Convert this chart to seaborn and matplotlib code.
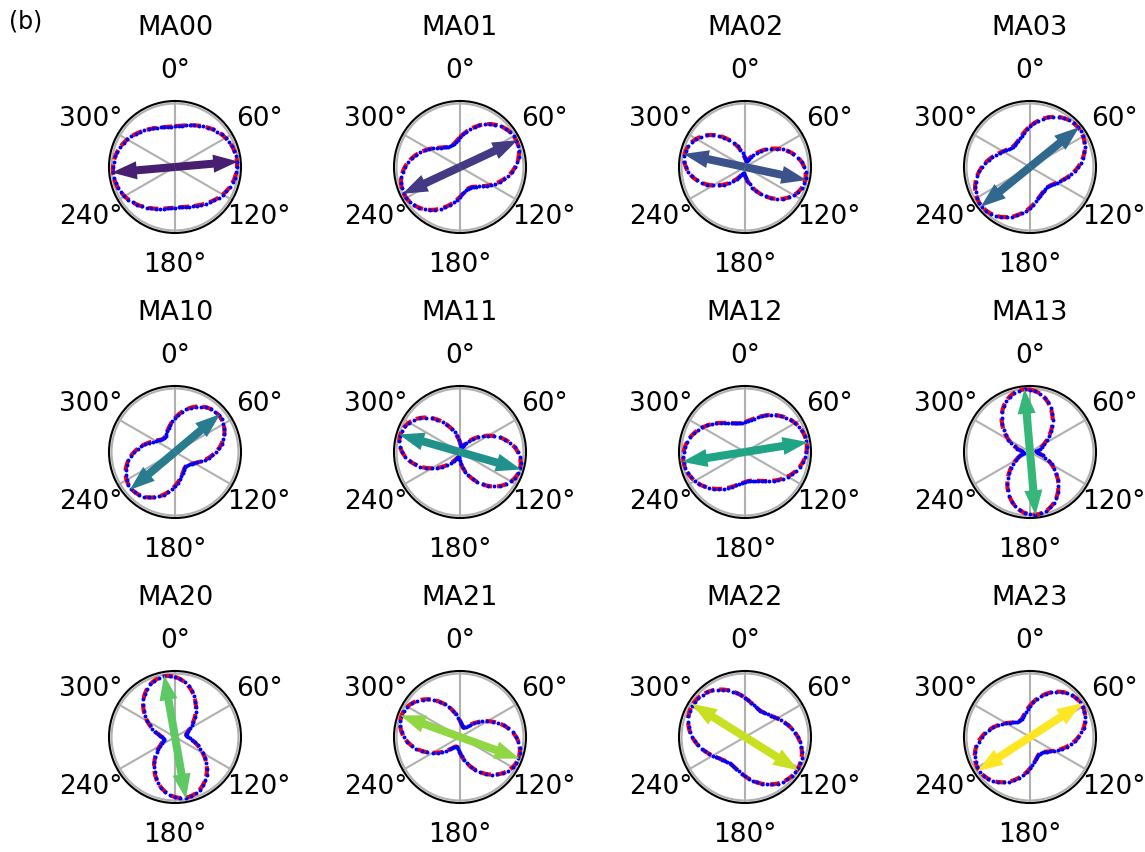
import numpy as np
import pandas as pd
import matplotlib
matplotlib.use("Agg")
import matplotlib.pyplot as plt
import seaborn as sns

# Panel names (row-major, 3 rows x 4 columns)
names = ["MA00", "MA01", "MA02", "MA03",
         "MA10", "MA11", "MA12", "MA13",
         "MA20", "MA21", "MA22", "MA23"]
# Fitted orientation of the major axis (degrees, clockwise from top)
orient_deg = [85, 65, 102, 51,
              50, 106, 81, 355,
              350, 110, 122, 57]
# Fitted maximum radius (normalised)
r_max = [0.98, 0.98, 0.97, 0.98,
         0.90, 0.98, 0.98, 0.99,
         0.97, 0.98, 0.97, 0.96]
# Fitted minimum radius (normalised)
r_min = [0.64, 0.36, 0.10, 0.42,
         0.28, 0.08, 0.46, 0.10,
         0.18, 0.16, 0.48, 0.30]
# Length of the double-headed orientation arrow (normalised)
arrow_len = [1.0, 1.0, 0.99, 1.0,
             0.93, 1.0, 1.0, 1.0,
             0.99, 1.0, 0.99, 0.98]
tick_deg = [0, 60, 120, 180, 240, 300]
tick_labels = ["0°", "60°", "120°", "180°", "240°", "300°"]

fig = plt.figure(figsize=(11.45, 8.53), dpi=100)
W, H = 1145, 853
col_cx = [175, 460, 745, 1030]
row_cy = [168, 453, 738]
rad = 66
cmap = plt.get_cmap("viridis")

fit_theta = np.linspace(0, 2 * np.pi, 361)
pt_theta = np.deg2rad(np.arange(0, 360, 5))

for i, name in enumerate(names):
    r_i, c_i = divmod(i, 4)
    cx, cy = col_cx[c_i], row_cy[r_i]
    ax = fig.add_axes([(cx - rad) / W, 1 - (cy + rad) / H, 2 * rad / W, 2 * rad / H],
                      projection="polar")
    ax.set_theta_zero_location("N")
    ax.set_theta_direction(-1)
    phi = np.deg2rad(orient_deg[i])
    a, b = r_min[i], r_max[i]
    fit_r = a + (b - a) * np.cos(fit_theta - phi) ** 2
    pt_r = a + (b - a) * np.cos(pt_theta - phi) ** 2
    df_fit = pd.DataFrame({"theta": fit_theta, "r": fit_r})
    df_pt = pd.DataFrame({"theta": pt_theta, "r": pt_r})
    sns.lineplot(data=df_fit, x="theta", y="r", ax=ax, color="red", lw=3.0,
                 linestyle=(0, (2.5, 1.2)), sort=False, estimator=None)
    sns.scatterplot(data=df_pt, x="theta", y="r", ax=ax, color="blue", s=8,
                    linewidth=0, zorder=3)
    color = cmap((i + 1) / 12)
    L = arrow_len[i]
    for ang in (phi, phi + np.pi):
        ax.annotate("", xy=(ang, L), xytext=(0, 0),
                    arrowprops=dict(arrowstyle="simple,head_length=1.8,head_width=1.3,tail_width=0.58",
                                    color=color, lw=0, shrinkA=0, shrinkB=0,
                                    mutation_scale=10), zorder=4)
    ax.set_ylim(0, 1.04)
    ax.set_yticks([1.0])
    ax.set_yticklabels([])
    ax.set_thetagrids(tick_deg, tick_labels, fontsize=19)
    ax.tick_params(axis="x", pad=12)
    ax.grid(True, color="#b0b0b0", lw=1.5)
    ax.spines["polar"].set_linewidth(1.5)
    ax.set_xlabel("")
    ax.set_ylabel("")
    ax.set_title(name, fontsize=19.5, pad=48)

fig.text(0.008, 0.975, "(b)", fontsize=17, va="center", ha="left")
fig.savefig("out.png", dpi=100)
